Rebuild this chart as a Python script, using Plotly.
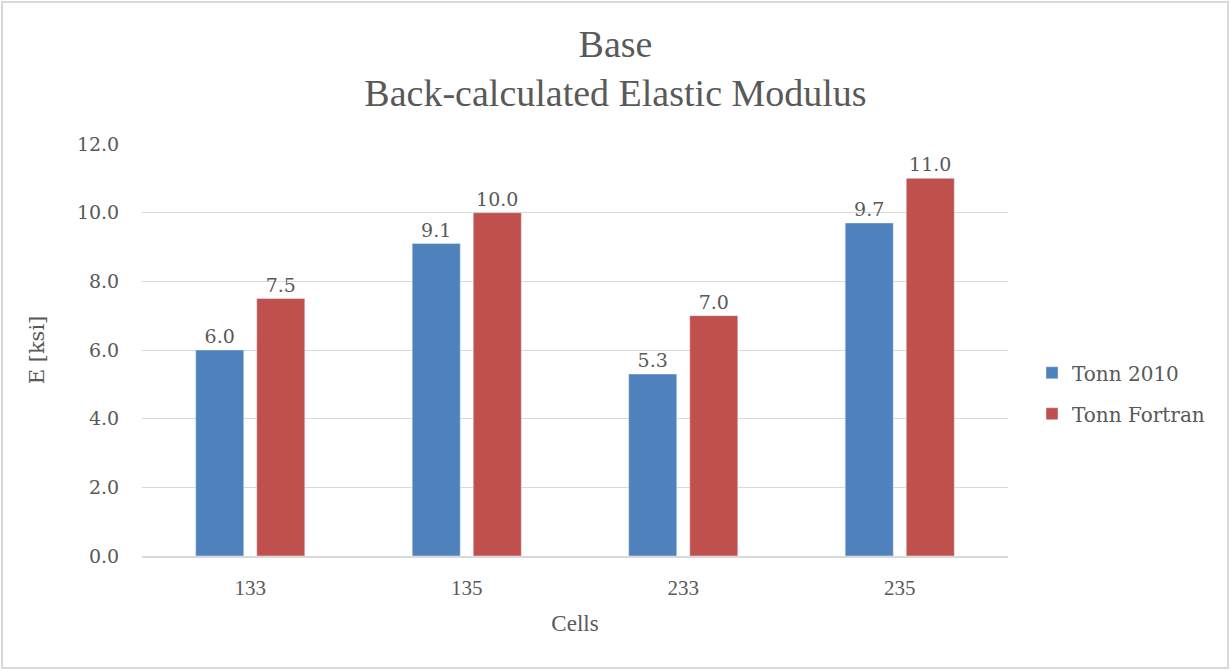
import plotly.graph_objects as go

cells = ["133", "135", "233", "235"]
tonn_2010 = [6.0, 9.1, 5.3, 9.7]
tonn_fortran = [7.5, 10.0, 7.0, 11.0]
y_ticks = [0, 2, 4, 6, 8, 10, 12]

NARROW = "Liberation Serif"
WIDE = "DejaVu Serif"
GREY = "#595959"
W, H = 1231, 671
L, R, T, B = 142, 223, 144, 115

fig = go.Figure()
fig.add_trace(go.Bar(
    x=cells, y=tonn_2010, name="Tonn 2010", legendgroup="a",
    marker_color="#4F81BD",
    text=[f"{v:.1f}" for v in tonn_2010], textposition="outside",
    textfont=dict(size=19, color=GREY, family=WIDE), cliponaxis=False,
))
fig.add_trace(go.Bar(
    x=cells, y=tonn_fortran, name="Tonn Fortran", legendgroup="b",
    marker_color="#C0504D",
    text=[f"{v:.1f}" for v in tonn_fortran], textposition="outside",
    textfont=dict(size=19, color=GREY, family=WIDE), cliponaxis=False,
))

# thin frame round the whole chart
pw, ph = W - L - R, H - T - B
fig.add_shape(type="rect", xref="paper", yref="paper",
              x0=-(L - 2) / pw, x1=1 + (R - 3) / pw,
              y0=-(B - 3) / ph, y1=1 + (T - 2) / ph,
              line=dict(color="#D9D9D9", width=2), layer="below")

fig.update_layout(
    width=W, height=H,
    margin=dict(l=L, r=R, t=T, b=B),
    paper_bgcolor="white", plot_bgcolor="white",
    font=dict(family=WIDE, color=GREY, size=19),
    title=dict(text="Base<br>Back-calculated Elastic Modulus",
               x=0.5, xanchor="center", y=0.915, yanchor="top",
               font=dict(size=38, color=GREY, family=NARROW)),
    barmode="group", bargap=0.436, bargroupgap=0.213,
    legend=dict(x=1 + 24 / pw, y=0.395, xanchor="left", yanchor="middle",
                traceorder="grouped", tracegroupgap=12,
                font=dict(size=20, color=GREY, family=WIDE)),
    showlegend=True,
)
fig.update_xaxes(
    title=dict(text="Cells", font=dict(size=23, color=GREY, family=NARROW), standoff=16),
    tickfont=dict(size=21, color=GREY, family=NARROW),
    showline=True, linecolor="#D9D9D9", linewidth=2,
    ticks="outside", ticklen=12, tickcolor="white",
)
fig.update_yaxes(
    title=dict(text="E [ksi]", font=dict(size=21, color=GREY, family=WIDE), standoff=26),
    range=[0, 12], tickvals=y_ticks, ticktext=[f"{v:.1f}" for v in y_ticks],
    tickfont=dict(size=19, color=GREY, family=WIDE),
    showgrid=True, gridcolor="#D9D9D9", gridwidth=1,
    zeroline=False, showline=False, ticks="outside", ticklen=18, tickcolor="white",
)

fig.write_html("out.html", config={"displayModeBar": False},
               post_script="document.body.style.margin='0';")
